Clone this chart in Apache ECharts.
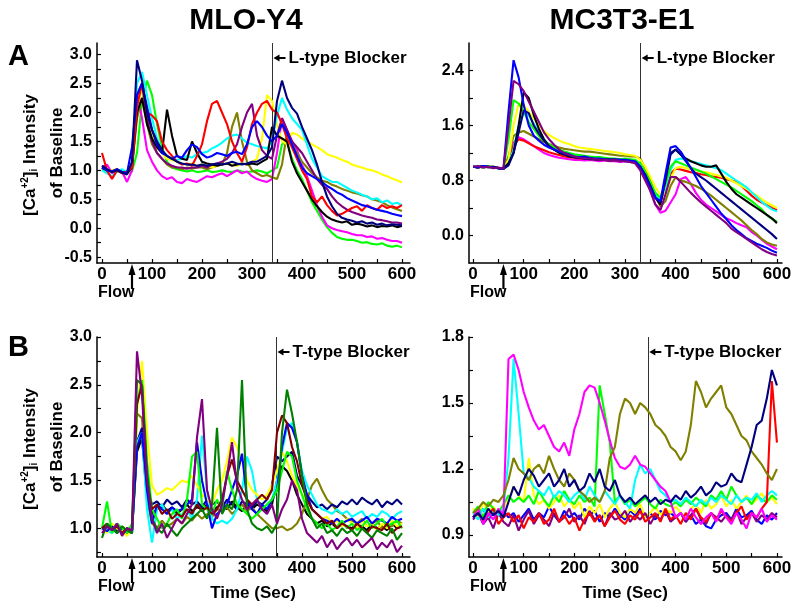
<!DOCTYPE html>
<html><head><meta charset="utf-8">
<script src="https://cdn.jsdelivr.net/npm/echarts@6/dist/echarts.min.js"></script>
<style>html,body{margin:0;padding:0;background:#fff}#c{width:800px;height:612px}</style>
</head><body><div id="c"></div>
<script>
const timeSec = [0,10,20,30,40,50,60,70,80,90,100,110,120,130,140,150,160,170,180,190,200,210,220,230,240,250,260,270,280,290,300,310,320,330,340,350,360,370,380,390,400,410,420,430,440,450,460,470,480,490,500,510,520,530,540,550,560,570,580,590,600];
const flowTime = 60;
const blockerTimes = [341, 331, 349, 346];
const blockerLabels = ['L-type Blocker','L-type Blocker','T-type Blocker','T-type Blocker'];
const panelTitles = ['MLO-Y4','MC3T3-E1'];
const rowLetters = ['A','B'];

// ---- Panel A, MLO-Y4 (L-type) ----
const aLNavy = [1.08,1.02,0.97,1.00,0.96,0.93,1.15,2.90,2.55,2.00, 1.70,1.50,1.35,1.25,1.20,1.15,1.12,1.10,1.10,1.08, 1.10,1.08,1.10,1.12,1.10,1.12,1.15,1.12,1.10,1.12, 1.15,1.15,1.20,1.25,1.40,2.20,2.55,2.25,2.08,1.98, 1.75,1.55,1.35,1.10,0.80,0.55,0.38,0.25,0.18,0.15, 0.13,0.10,0.12,0.08,0.10,0.06,0.08,0.05,0.07,0.06, 0.05];
const aLBlue = [1.05,1.00,0.98,1.02,0.97,0.95,1.40,2.30,2.50,2.10, 1.70,1.45,1.30,1.25,1.20,1.25,1.22,1.35,1.45,1.40, 1.28,1.22,1.25,1.30,1.28,1.25,1.30,1.32,1.28,1.45, 1.75,1.85,1.75,1.60,1.50,1.60,1.80,1.65,1.45,1.25, 1.05,0.95,0.90,0.85,0.80,0.73,0.68,0.62,0.58,0.52, 0.48,0.44,0.40,0.38,0.35,0.32,0.30,0.28,0.25,0.23, 0.21];
const aLRed = [1.30,1.00,0.85,1.00,0.95,0.98,1.05,2.10,2.50,2.00, 1.95,1.85,1.50,1.35,1.25,1.15,1.10,1.12,1.08,1.25, 1.45,1.85,2.15,2.20,2.00,1.80,1.50,1.30,1.15,1.40, 1.80,2.00,2.15,2.20,2.05,2.00,1.80,1.55,1.40,1.20, 1.00,0.85,0.55,0.45,0.55,0.40,0.30,0.22,0.25,0.30, 0.35,0.38,0.30,0.40,0.35,0.32,0.40,0.35,0.38,0.35, 0.40];
const aLBlack = [1.05,1.00,0.98,1.00,0.97,0.96,1.05,2.00,2.25,1.80, 1.55,1.40,1.30,2.05,1.60,1.25,1.20,1.18,1.50,1.30, 1.15,1.12,1.10,1.08,1.10,1.12,1.08,1.10,1.12,1.10, 1.12,1.10,1.15,1.20,1.75,1.60,1.55,1.50,1.15,0.95, 0.80,0.65,0.50,0.38,0.28,0.20,0.15,0.12,0.10,0.12, 0.06,0.08,0.06,0.03,0.05,0.02,0.04,0.03,0.05,0.02, 0.04];
const aLGreen = [1.02,0.98,1.00,0.97,1.00,0.95,0.98,1.30,2.20,2.55, 2.30,1.80,1.40,1.15,1.05,1.02,1.00,0.98,1.00,0.97, 0.98,1.00,0.97,0.98,1.00,0.98,0.97,1.00,0.98,0.97, 0.98,1.00,0.98,0.95,1.00,1.05,1.45,1.50,1.20,1.00, 0.85,0.65,0.45,0.30,0.15,0.02,-0.08,-0.15,-0.18,-0.20, -0.20,-0.22,-0.25,-0.24,-0.27,-0.28,-0.26,-0.30,-0.32,-0.30, -0.33];
const aLCyan = [1.00,0.95,0.90,0.98,1.02,0.97,1.10,2.50,2.70,2.30, 1.90,1.55,1.35,1.25,1.20,1.18,1.20,1.25,1.22,1.28, 1.30,1.32,1.38,1.42,1.48,1.55,1.60,1.62,1.55,1.48, 1.45,1.42,1.40,1.38,1.50,1.95,2.25,2.05,1.90,1.80, 1.70,1.45,1.20,1.05,0.90,0.85,0.80,0.80,0.75,0.70, 0.65,0.62,0.58,0.55,0.50,0.52,0.45,0.48,0.42,0.44, 0.40];
const aLMagenta = [1.05,1.10,0.95,1.00,0.98,0.80,1.00,2.35,1.90,1.35, 1.15,1.00,0.90,0.85,0.88,0.80,0.78,0.85,0.82,0.80, 0.85,0.90,0.88,0.92,0.95,0.90,0.95,1.00,0.95,0.98, 0.90,0.85,0.82,0.80,0.85,1.30,1.90,1.70,1.50,1.35, 1.10,0.90,0.65,0.40,0.20,0.05,0.00,-0.03,-0.05,-0.07, -0.10,-0.12,-0.12,-0.15,-0.14,-0.18,-0.17,-0.20,-0.22,-0.22, -0.25];
const aLYellow = [1.00,0.97,1.00,1.02,0.98,0.95,1.05,2.10,2.40,2.00, 1.60,1.40,1.30,1.20,1.18,1.15,1.12,1.10,1.12,1.08, 1.10,1.08,1.05,1.08,1.10,1.12,1.10,1.08,1.12,1.10, 1.15,1.20,1.55,2.30,2.20,1.80,1.50,1.45,1.65,1.62, 1.55,1.50,1.45,1.40,1.35,1.28,1.25,1.22,1.18,1.15, 1.10,1.07,1.05,1.02,1.00,0.97,0.93,0.90,0.86,0.83, 0.79];
const aLOlive = [1.02,1.00,0.98,1.00,0.97,0.98,1.05,1.90,2.25,1.80, 1.45,1.30,1.20,1.10,1.05,1.05,1.02,1.05,1.03,1.05, 1.05,1.02,1.05,1.08,1.10,1.30,1.75,2.00,1.50,1.15, 1.00,0.95,0.90,0.92,0.88,0.85,1.10,1.65,1.45,1.30, 1.15,1.05,0.95,0.88,0.82,0.80,0.75,0.72,0.68,0.65, 0.62,0.60,0.57,0.55,0.50,0.48,0.45,0.40,0.36,0.33, 0.30];
const aLPurple = [1.05,1.00,0.98,1.02,0.97,0.95,1.05,2.30,2.50,1.90, 1.50,1.30,1.20,1.12,1.08,1.05,1.05,1.03,1.05,1.05, 1.08,1.05,1.10,1.12,1.15,1.20,1.30,1.45,1.75,2.00, 2.15,1.60,1.35,1.25,1.20,1.60,1.90,1.70,1.50,1.40, 1.30,1.15,1.00,0.85,0.75,0.68,0.55,0.45,0.38,0.32, 0.28,0.25,0.22,0.20,0.18,0.15,0.14,0.12,0.10,0.10, 0.08];

// ---- Panel A, MC3T3-E1 (L-type) ----
const aRBlue = [1.00,0.99,1.01,1.00,0.99,0.98,0.97,1.80,2.55,2.30, 1.90,1.60,1.45,1.38,1.32,1.28,1.25,1.22,1.20,1.18, 1.15,1.14,1.15,1.13,1.12,1.12,1.11,1.10,1.11,1.10, 1.10,1.09,1.08,1.00,0.85,0.70,0.55,0.50,0.90,1.28, 1.30,1.22,1.10,0.98,0.85,0.72,0.62,0.52,0.42,0.32, 0.24,0.15,0.08,0.02,-0.04,-0.08,-0.12,-0.15,-0.18,-0.22, -0.25];
const aRPurple = [1.00,1.01,0.99,1.00,0.98,0.99,0.97,1.60,2.25,2.20, 2.10,1.95,1.80,1.65,1.50,1.40,1.32,1.25,1.20,1.17, 1.15,1.13,1.12,1.12,1.11,1.10,1.10,1.09,1.10,1.08, 1.08,1.07,1.05,0.95,0.80,0.65,0.45,0.37,0.60,0.85, 0.85,0.78,0.70,0.62,0.55,0.48,0.42,0.36,0.30,0.24, 0.18,0.10,0.05,0.00,-0.05,-0.10,-0.15,-0.20,-0.24,-0.27, -0.29];
const aRBlack = [1.00,0.99,1.01,0.99,1.00,0.98,0.97,1.05,1.20,1.60, 2.08,2.00,1.75,1.55,1.40,1.30,1.25,1.20,1.18,1.15, 1.14,1.13,1.12,1.12,1.11,1.10,1.10,1.11,1.10,1.10, 1.09,1.08,1.07,1.00,0.88,0.72,0.55,0.45,0.85,1.20, 1.25,1.18,1.12,1.08,1.05,1.02,1.00,1.00,1.02,0.90, 0.78,0.68,0.60,0.55,0.50,0.45,0.40,0.35,0.30,0.25, 0.18];
const aRGreen = [1.00,1.00,0.99,1.01,0.99,0.98,0.97,1.40,1.97,1.92, 1.80,1.65,1.55,1.45,1.38,1.32,1.28,1.25,1.22,1.20, 1.18,1.17,1.16,1.15,1.14,1.14,1.13,1.12,1.12,1.11, 1.12,1.11,1.10,1.05,0.92,0.78,0.62,0.55,0.75,1.00, 1.08,1.05,1.02,0.99,0.96,0.93,0.90,0.86,0.82,0.78, 0.74,0.70,0.65,0.60,0.55,0.50,0.44,0.38,0.30,0.24, 0.20];
const aRYellow = [1.00,0.99,1.00,1.01,0.99,0.98,0.97,1.10,1.60,1.92, 1.90,1.80,1.70,1.60,1.52,1.46,1.42,1.38,1.35,1.33, 1.30,1.28,1.27,1.26,1.25,1.24,1.23,1.22,1.21,1.20, 1.18,1.17,1.16,1.10,1.00,0.85,0.70,0.60,0.62,0.82, 0.98,1.00,0.98,0.96,0.95,0.93,0.92,0.90,0.88,0.86, 0.84,0.80,0.76,0.72,0.68,0.63,0.58,0.53,0.48,0.44, 0.40];
const aRCyan = [1.00,1.01,0.99,1.00,1.00,0.98,0.97,1.05,1.25,1.60, 1.78,1.75,1.62,1.50,1.40,1.32,1.27,1.23,1.20,1.18, 1.16,1.15,1.14,1.13,1.12,1.12,1.11,1.10,1.10,1.10, 1.10,1.09,1.08,1.02,0.90,0.75,0.60,0.52,0.70,0.95, 1.10,1.12,1.10,1.08,1.06,1.04,1.02,1.00,0.98,0.95, 0.90,0.85,0.80,0.75,0.70,0.63,0.56,0.49,0.43,0.38, 0.35];
const aROlive = [1.00,0.99,1.01,1.00,1.00,0.98,0.97,1.15,1.45,1.50, 1.52,1.48,1.44,1.40,1.36,1.33,1.30,1.28,1.26,1.25, 1.24,1.23,1.22,1.22,1.21,1.20,1.19,1.18,1.17,1.16, 1.16,1.15,1.15,1.12,0.98,0.80,0.58,0.42,0.50,0.72, 0.85,0.80,0.78,0.75,0.72,0.68,0.63,0.58,0.52,0.46, 0.40,0.34,0.28,0.22,0.15,0.08,0.02,-0.05,-0.10,-0.13, -0.15];
const aRRed = [1.00,1.00,0.99,1.01,1.00,0.98,0.97,1.05,1.30,1.40, 1.38,1.34,1.30,1.27,1.24,1.21,1.19,1.17,1.15,1.14, 1.13,1.12,1.12,1.11,1.11,1.10,1.10,1.09,1.10,1.09, 1.09,1.08,1.07,1.02,0.90,0.75,0.58,0.50,0.70,0.90, 0.97,0.96,0.94,0.92,0.91,0.89,0.88,0.86,0.85,0.84, 0.82,0.80,0.78,0.72,0.65,0.58,0.52,0.48,0.44,0.40, 0.37];
const aRMagenta = [1.00,1.01,0.99,1.00,0.99,0.98,0.97,1.10,1.35,1.43, 1.40,1.35,1.30,1.25,1.20,1.17,1.15,1.13,1.12,1.11, 1.10,1.10,1.09,1.10,1.09,1.08,1.09,1.08,1.08,1.07, 1.08,1.07,1.06,1.00,0.85,0.65,0.45,0.33,0.36,0.48, 0.60,0.82,0.85,0.75,0.62,0.52,0.45,0.40,0.35,0.30, 0.25,0.22,0.18,0.15,0.12,0.05,0.00,-0.06,-0.12,-0.16, -0.20];
const aRNavy = [1.00,0.99,1.01,1.00,0.99,0.98,0.97,1.02,1.20,1.50, 1.82,1.78,1.60,1.48,1.38,1.30,1.25,1.22,1.18,1.16, 1.14,1.13,1.12,1.11,1.11,1.10,1.10,1.09,1.10,1.09, 1.08,1.08,1.07,1.00,0.88,0.72,0.55,0.48,0.80,1.18, 1.25,1.18,1.08,0.98,0.90,0.85,0.80,0.74,0.68,0.62, 0.56,0.50,0.44,0.38,0.32,0.26,0.20,0.14,0.08,0.02, -0.05];

// ---- Panel B, MLO-Y4 (T-type) ----
const bLPurple = [0.95,1.02,0.98,1.05,0.92,1.00,0.98,2.85,2.40,1.50, 1.10,0.95,1.05,0.90,1.00,1.10,1.05,1.15,1.25,1.95, 2.35,1.40,1.20,1.10,1.25,1.55,1.90,1.45,1.30,1.20, 1.25,1.30,1.20,1.15,1.25,1.05,1.20,1.30,1.50,1.40, 1.10,0.95,0.90,0.85,0.92,0.80,0.88,0.78,0.85,0.90, 0.82,0.88,0.80,0.85,0.90,0.78,0.85,0.80,0.88,0.75, 0.82];
const bLYellow = [1.00,0.95,1.05,1.00,0.98,0.92,1.00,2.20,2.75,2.00, 1.45,1.35,1.38,1.42,1.40,1.45,1.50,1.48,1.55,1.45, 1.35,1.30,1.25,1.40,1.50,1.70,1.95,1.85,1.70,1.50, 1.40,1.35,1.30,1.35,1.45,1.60,1.80,1.70,1.55,1.45, 1.35,1.30,1.20,1.15,1.10,1.12,1.05,1.08,1.02,1.10, 1.05,1.00,1.08,1.02,1.05,0.98,1.05,1.00,1.08,1.02, 1.05];
const bLDarkGreen = [0.90,1.05,1.00,0.95,1.02,0.98,0.95,2.55,2.50,1.60, 1.10,1.00,0.95,1.05,0.98,0.92,1.00,1.05,1.10,1.15, 1.20,1.10,1.25,2.05,1.15,1.25,1.20,1.40,2.55,1.20, 1.05,1.00,0.98,1.02,0.95,1.05,2.00,2.45,2.20,1.90, 1.55,1.25,1.10,1.00,1.05,0.95,0.98,0.92,1.00,0.95, 0.98,0.92,1.00,0.95,0.90,0.98,0.95,0.92,1.00,0.88, 0.95];
const bLGreen = [1.00,1.28,0.95,1.05,1.00,0.95,1.05,2.30,2.55,1.70, 1.20,1.10,1.00,1.05,1.15,1.20,1.10,1.30,1.75,1.80, 1.25,1.20,1.15,1.30,1.20,1.60,1.40,1.25,1.20,1.15, 1.10,1.15,1.20,1.25,1.30,1.40,1.60,1.80,1.75,1.50, 1.35,1.20,1.10,1.05,1.00,1.05,0.98,1.02,1.08,1.00, 1.05,0.98,1.02,1.08,1.00,1.05,1.10,1.02,1.05,1.08, 1.00];
const bLDarkRed = [1.00,1.05,0.98,1.02,0.95,1.00,0.97,2.30,2.50,1.50, 1.20,1.25,1.15,1.20,1.10,1.15,1.12,1.20,1.15,1.25, 1.18,1.22,1.15,1.20,1.30,1.55,1.72,1.50,1.40,1.30, 1.25,1.30,1.35,1.30,1.40,2.00,2.18,2.10,1.85,1.70, 1.45,1.30,1.20,1.15,1.10,1.05,1.08,1.00,1.05,1.02, 0.98,1.05,1.00,0.95,1.02,1.00,0.98,1.05,0.95,1.00, 1.02];
const bLBlue = [1.00,0.97,1.02,0.95,1.00,0.98,0.95,1.85,2.00,1.40, 1.05,1.25,1.20,1.15,1.22,1.18,1.20,1.25,1.30,1.90, 1.50,1.25,1.00,1.15,1.20,1.25,1.40,1.55,1.78,1.30, 1.20,1.15,1.25,1.20,1.30,1.40,1.85,2.10,2.05,1.90, 1.55,1.35,1.20,1.15,1.10,1.08,1.05,1.10,1.05,1.08, 1.10,1.05,1.08,1.12,1.05,1.10,1.08,1.05,1.12,1.08, 1.10];
const bLCyan = [1.00,0.98,0.95,1.02,1.00,0.97,0.95,1.90,2.00,1.20, 0.85,1.20,1.25,1.15,1.20,1.10,1.15,1.20,1.10,1.30, 1.97,1.40,1.10,1.05,1.08,1.05,1.10,1.20,1.40,1.75, 1.60,1.30,1.20,1.25,1.30,1.50,1.80,2.05,2.10,1.90, 1.60,1.45,1.35,1.25,1.20,1.18,1.15,1.20,1.15,1.18, 1.12,1.15,1.18,1.10,1.15,1.12,1.18,1.15,1.10,1.15, 1.18];
const bLNavy = [1.00,1.02,0.98,1.05,0.95,1.00,0.98,1.90,2.05,1.40, 1.25,1.28,1.22,1.30,1.25,1.28,1.22,1.30,1.25,1.28, 1.22,1.30,1.25,1.28,1.22,1.30,1.25,1.20,1.28,1.25, 1.22,1.28,1.25,1.30,1.45,1.75,1.70,1.75,1.80,1.55, 1.45,1.35,1.28,1.22,1.25,1.20,1.25,1.22,1.28,1.25, 1.30,1.25,1.32,1.28,1.25,1.30,1.22,1.28,1.25,1.30, 1.25];
const bLOlive = [1.02,0.98,1.00,0.95,1.02,0.97,0.95,2.20,2.15,1.30, 1.05,1.00,1.08,1.02,1.05,1.10,1.05,1.12,1.08,1.15, 1.10,1.15,1.12,1.20,1.18,1.22,1.15,1.20,1.25,1.18, 1.22,1.15,1.10,1.05,1.00,1.00,1.02,0.98,1.00,1.05, 1.15,1.30,1.45,1.52,1.40,1.30,1.25,1.18,1.15,1.10, 1.08,1.05,1.10,1.02,1.05,1.08,1.00,1.05,1.02,1.08, 1.05];
const bLBlack = [1.00,0.98,1.02,0.97,1.00,0.95,0.98,1.80,1.95,1.30, 1.15,1.20,1.25,1.18,1.22,1.15,1.20,1.25,1.18,1.22, 1.20,1.25,1.18,1.22,1.25,1.20,1.28,1.22,1.18,1.25, 1.20,1.25,1.22,1.18,1.25,1.50,1.65,1.60,1.50,1.35, 1.25,1.15,1.10,1.05,1.08,1.02,1.05,1.00,1.05,1.02, 1.00,1.05,1.02,0.98,1.05,1.00,1.02,0.98,1.05,1.00, 1.02];

// ---- Panel B, MC3T3-E1 (T-type) ----
const bRMagenta = [0.98,1.02,0.95,1.00,0.97,1.02,0.99,1.70,1.72,1.65, 1.55,1.48,1.42,1.38,1.40,1.35,1.30,1.28,1.32,1.26, 1.38,1.45,1.55,1.58,1.57,1.50,1.42,1.33,1.25,1.21, 1.20,1.22,1.26,1.22,1.21,1.18,1.15,1.12,1.10,1.05, 0.98,1.00,0.97,1.02,0.98,0.95,0.98,1.00,0.96,1.02, 0.98,0.95,1.00,0.97,0.93,1.00,0.98,1.02,0.96,0.99, 0.97];
const bRCyan = [1.00,0.97,1.02,0.98,1.01,0.99,1.02,1.25,1.70,1.45, 1.18,1.16,1.12,1.10,1.08,1.12,1.07,1.10,1.08,1.05, 1.08,1.10,1.06,1.12,1.08,1.05,1.10,1.07,1.04,1.08, 1.05,1.02,1.15,1.22,1.18,1.20,1.15,1.10,1.08,1.05, 1.06,1.04,1.07,1.05,1.03,1.06,1.04,1.07,1.05,1.08, 1.06,1.04,1.08,1.05,1.07,1.06,1.09,1.05,1.08,1.10, 1.08];
const bROlive = [1.00,1.02,1.05,1.03,1.06,1.05,1.08,1.15,1.25,1.20, 1.18,1.15,1.20,1.22,1.18,1.26,1.20,1.15,1.12,1.18, 1.15,1.10,1.08,1.05,1.07,1.05,1.10,1.25,1.30,1.45, 1.52,1.50,1.45,1.50,1.48,1.45,1.40,1.38,1.35,1.30, 1.28,1.24,1.28,1.40,1.60,1.55,1.48,1.52,1.55,1.58, 1.48,1.45,1.40,1.35,1.33,1.28,1.25,1.22,1.18,1.15, 1.20];
const bRNavy = [0.98,1.00,0.97,1.02,0.99,1.01,0.98,1.05,1.12,1.08, 1.15,1.20,1.17,1.12,1.15,1.18,1.12,1.15,1.20,1.12, 1.15,1.10,1.12,1.18,1.14,1.20,1.12,1.10,1.15,1.08, 1.05,1.07,1.04,1.06,1.08,1.05,1.07,1.04,1.06,1.05, 1.08,1.06,1.10,1.07,1.09,1.12,1.08,1.10,1.14,1.12, 1.13,1.18,1.15,1.14,1.22,1.30,1.40,1.42,1.52,1.65, 1.58];
const bRRed = [0.98,1.00,0.96,0.99,1.02,0.95,0.98,1.00,0.96,0.99, 0.93,0.98,0.96,1.00,0.95,0.97,1.02,0.96,0.99,0.95, 0.98,0.92,0.97,1.00,0.96,0.99,0.94,0.98,1.01,0.97, 0.95,0.99,0.97,1.01,0.96,0.98,1.00,0.96,1.02,0.97, 0.99,0.95,1.00,0.97,1.02,0.98,0.96,1.00,0.97,1.01, 0.98,0.96,1.00,1.03,0.97,1.00,0.98,1.02,1.05,1.60, 1.32];
const bRGreen = [1.00,1.03,0.98,1.05,1.02,1.00,1.04,1.08,1.05,1.07, 1.05,1.08,1.04,1.10,1.06,1.03,1.08,1.05,1.10,1.06, 1.04,1.08,1.05,1.07,1.03,1.58,1.45,1.32,1.05,1.08, 1.04,1.06,1.03,1.05,1.07,1.04,1.02,1.06,1.04,1.03, 1.05,1.03,1.06,1.04,1.07,1.05,1.03,1.08,1.06,1.10, 1.06,1.12,1.08,1.05,1.07,1.04,1.08,1.06,1.05,1.08, 1.06];
const bRYellow = [1.02,0.98,1.05,1.00,1.03,0.99,1.02,1.06,1.12,1.08, 1.05,1.25,1.08,1.04,1.06,1.02,1.05,1.08,1.03,1.06, 1.02,1.05,0.98,1.03,1.00,1.04,0.98,1.02,1.05,1.00, 0.98,1.02,1.00,1.04,0.98,1.00,1.03,0.99,1.02,1.00, 1.03,1.00,0.98,1.02,1.04,1.00,1.06,1.02,1.04,1.08, 1.03,1.06,1.02,1.05,1.08,1.04,1.06,1.09,1.05,1.07, 1.04];
const bRBlue = [0.98,1.00,1.02,0.97,1.00,0.99,1.01,0.98,1.00,0.96, 0.99,1.02,0.97,1.00,0.98,1.03,0.99,0.96,1.01,0.98, 1.00,0.97,1.02,0.99,1.01,0.96,1.00,0.98,1.02,0.99, 0.97,1.01,0.99,1.02,0.98,1.00,0.97,1.01,0.99,1.00, 0.98,1.00,0.96,0.99,0.95,0.97,0.94,0.93,0.97,0.99, 1.00,0.97,1.02,0.98,0.99,1.01,0.97,0.95,0.99,0.97, 1.00];
const bRPurple = [0.97,1.00,0.95,0.98,0.93,1.00,0.96,0.94,0.99,0.92, 0.97,1.01,0.95,0.99,0.97,0.94,1.00,0.96,0.98,1.02, 0.96,0.99,0.95,1.01,0.97,0.99,0.94,1.00,0.97,0.98, 1.01,0.96,0.99,0.97,1.00,0.95,0.99,0.97,1.01,0.96, 0.98,1.00,0.96,0.99,1.02,0.97,0.95,1.00,0.98,0.96, 0.99,0.97,1.01,0.95,0.98,1.00,0.96,0.99,0.97,1.00, 0.98];

// axis tick / label values
const xLabelVals = [0,100,200,300,400,500,600];
const xTickVals = [0,50,100,150,200,250,300,350,400,450,500,550,600];
const yLabelVals = [[-0.5,0,0.5,1,1.5,2,2.5,3],[0,0.8,1.6,2.4],[1,1.5,2,2.5,3],[0.9,1.2,1.5,1.8]];
const yTickVals = [[-0.5,-0.25,0,0.25,0.5,0.75,1,1.25,1.5,1.75,2,2.25,2.5,2.75,3],[0,0.4,0.8,1.2,1.6,2.0,2.4],[0.75,1,1.25,1.5,1.75,2,2.25,2.5,2.75,3],[0.9,1.05,1.2,1.35,1.5,1.65,1.8]];
const yRanges = [[-0.6,3.2],[-0.4,2.8],[0.7,3.0],[0.8,1.8]];
const xRanges = [[-10,616],[-8,610],[-10,616],[-8,610]];

const C = {navy:'#00007f',blue:'#0000ff',red:'#ff0000',black:'#000000',green:'#00ff00',cyan:'#00ffff',magenta:'#ff00ff',yellow:'#ffff00',olive:'#808000',purple:'#800080',dgreen:'#008000',dred:'#800000'};

const panels = [
  [[aLGreen,'green'],[aLMagenta,'magenta'],[aLOlive,'olive'],[aLYellow,'yellow'],[aLCyan,'cyan'],[aLPurple,'purple'],[aLBlack,'black'],[aLRed,'red'],[aLBlue,'blue'],[aLNavy,'navy']],
  [[aRMagenta,'magenta'],[aRRed,'red'],[aROlive,'olive'],[aRYellow,'yellow'],[aRCyan,'cyan'],[aRGreen,'green'],[aRBlack,'black'],[aRNavy,'navy'],[aRBlue,'blue'],[aRPurple,'purple']],
  [[bLBlack,'black'],[bLOlive,'olive'],[bLNavy,'navy'],[bLCyan,'cyan'],[bLYellow,'yellow'],[bLBlue,'blue'],[bLGreen,'green'],[bLDarkRed,'dred'],[bLDarkGreen,'dgreen'],[bLPurple,'purple']],
  [[bRBlue,'blue'],[bRYellow,'yellow'],[bRGreen,'green'],[bRPurple,'purple'],[bRCyan,'cyan'],[bRRed,'red'],[bRMagenta,'magenta'],[bROlive,'olive'],[bRNavy,'navy']]
];

const FONT = '"Liberation Sans", Arial, Helvetica, sans-serif';
const grids = [
  {left:97, top:43, width:313, height:220},
  {left:469, top:43, width:313, height:220},
  {left:97, top:337, width:313, height:220},
  {left:469, top:337, width:313, height:220}
];

const xAxes = [], yAxes = [], series = [];
for (let k=0;k<4;k++){
  xAxes.push({type:'value', gridIndex:k, min:xRanges[k][0], max:xRanges[k][1], splitLine:{show:false},
    axisLine:{show:true, onZero:false, lineStyle:{color:'#000', width:1.5}},
    axisTick:{show:true, inside:true, length:4, customValues:xTickVals, lineStyle:{color:'#000', width:1.2}},
    axisLabel:{customValues:xLabelVals, color:'#000', fontFamily:FONT, fontWeight:'bold', fontSize:17, margin:3}
  });
  yAxes.push({type:'value', gridIndex:k, min:yRanges[k][0], max:yRanges[k][1], splitLine:{show:false},
    axisLine:{show:true, onZero:false, lineStyle:{color:'#000', width:1.5}},
    axisTick:{show:true, inside:true, length:4, customValues:yTickVals[k], lineStyle:{color:'#000', width:1.2}},
    axisLabel:{customValues:yLabelVals[k], color:'#000', fontFamily:FONT, fontWeight:'bold', fontSize:16, margin:5,
      formatter:(v)=>Number(v).toFixed(1)}
  });
  panels[k].forEach((p, j)=>{
    const col = C[p[1]];
    const s = {type:'line', xAxisIndex:k, yAxisIndex:k, showSymbol:false, symbol:'none', silent:true, animation:false,
      data: timeSec.map((t,i)=>[t, p[0][i]]),
      lineStyle:{width:2.1, color:col}, itemStyle:{color:col}, z:2+j};
    if (j===0){
      s.markLine = {symbol:'none', silent:true, animation:false, label:{show:false},
        lineStyle:{color:'#333', width:1, type:'solid'}, data:[{xAxis:blockerTimes[k]}]};
    }
    series.push(s);
  });
}

const chart = echarts.init(document.getElementById('c'), null, {renderer:'canvas'});
chart.setOption({backgroundColor:'#fff', animation:false, grid:grids, xAxis:xAxes, yAxis:yAxes, series:series});

// annotations anchored to data coordinates
const g = [];
const txt = (x,y,text,size,align)=>({type:'text', x, y, silent:true, style:{text, fill:'#000', font:'bold '+size+'px '+FONT, align:align||'left', verticalAlign:'middle'}});
g.push(txt(246,21,panelTitles[0],30,'center'));
g.push(txt(622,21,panelTitles[1],30,'center'));
g.push(txt(8,57,rowLetters[0],29));
g.push(txt(8,348,rowLetters[1],29));
for (let k=0;k<4;k++){
  const gr = grids[k];
  const bottom = gr.top+gr.height;
  const lx = chart.convertToPixel({gridIndex:k},[blockerTimes[k], yRanges[k][1]])[0];
  const ay = gr.top + 15;
  g.push({type:'polygon', silent:true, shape:{points:[[lx+1,ay],[lx+7,ay-3.5],[lx+7,ay+3.5]]}, style:{fill:'#000'}});
  g.push({type:'line', silent:true, shape:{x1:lx+6,y1:ay,x2:lx+13,y2:ay}, style:{stroke:'#000', lineWidth:2}});
  g.push(txt(lx+16, ay, blockerLabels[k], 17));
  const fx = chart.convertToPixel({gridIndex:k},[flowTime, yRanges[k][0]])[0];
  g.push({type:'polygon', silent:true, shape:{points:[[fx,bottom+1],[fx-3.5,bottom+12],[fx+3.5,bottom+12]]}, style:{fill:'#000'}});
  g.push({type:'line', silent:true, shape:{x1:fx,y1:bottom+11,x2:fx,y2:bottom+26}, style:{stroke:'#000', lineWidth:2.2}});
  g.push(txt(gr.left+1, bottom+30, 'Flow', 16));
  if (k>=2){
    g.push(txt(gr.left+156, bottom+36, 'Time (Sec)', 17, 'center'));
  }
}
[0,2].forEach(k=>{
  const cy = grids[k].top + grids[k].height/2;
  g.push({type:'text', x:30, y:cy+2, rotation:Math.PI/2, silent:true, style:{
    text:'[Ca{sup|+2}]{sub|i} Intensity', fill:'#000', font:'bold 17px '+FONT, align:'center', verticalAlign:'middle',
    rich:{sup:{fontSize:10, fontWeight:'bold', fontFamily:FONT, fill:'#000', verticalAlign:'top', padding:[0,0,9,0]},
          sub:{fontSize:10, fontWeight:'bold', fontFamily:FONT, fill:'#000', verticalAlign:'bottom', padding:[9,0,0,0]}}}});
  g.push({type:'text', x:57, y:cy, rotation:Math.PI/2, silent:true, style:{text:'of Baseline', fill:'#000', font:'bold 17px '+FONT, align:'center', verticalAlign:'middle'}});
});
chart.setOption({graphic:g});
</script>
</body></html>
